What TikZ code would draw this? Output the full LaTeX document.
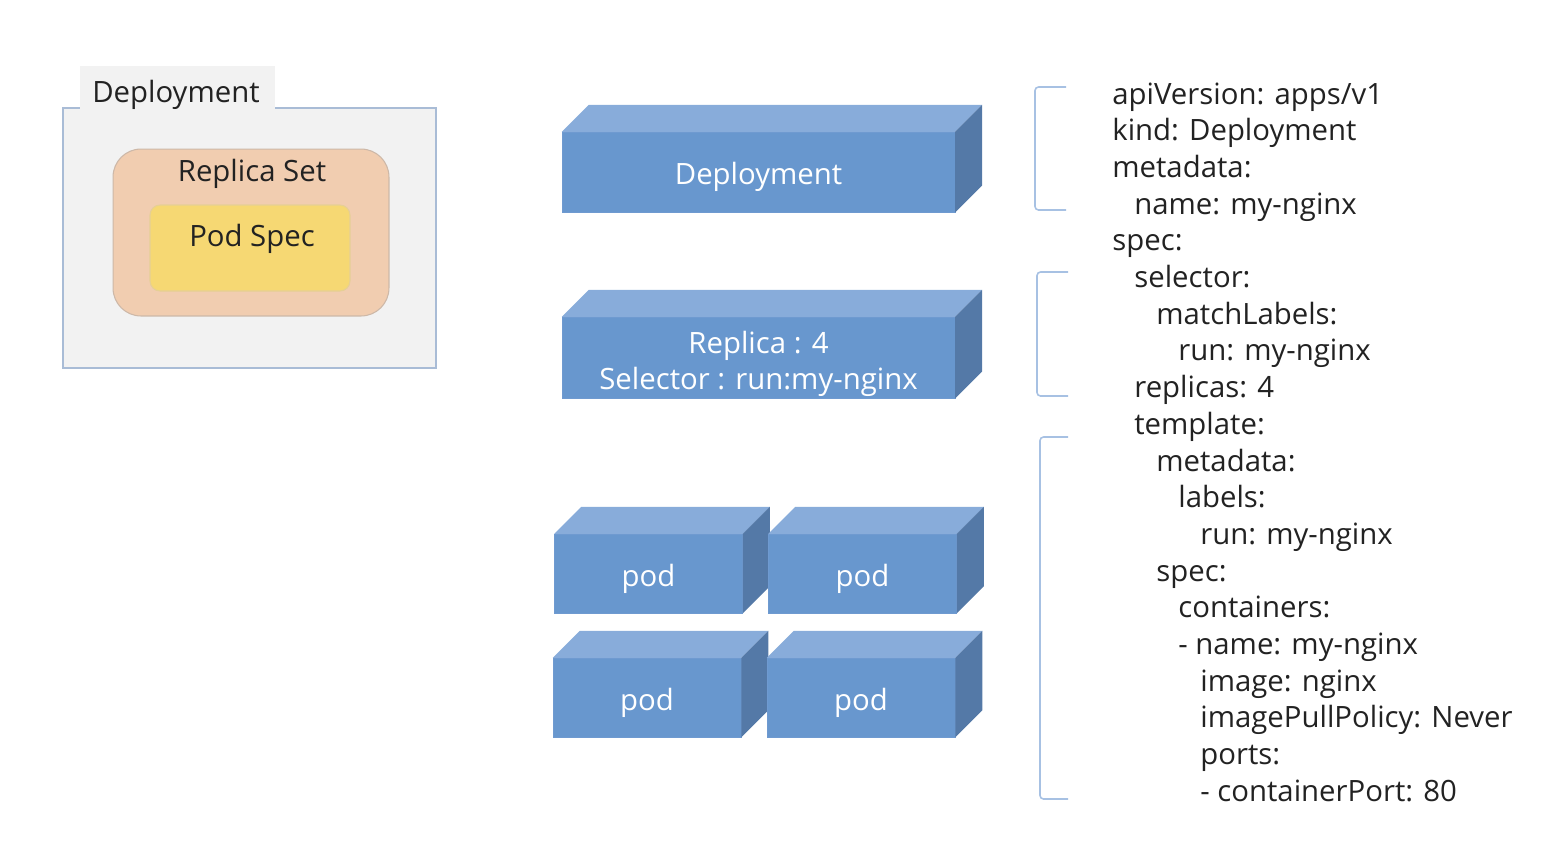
\documentclass[tikz,border=0pt]{standalone}
\usepackage{fontspec}
\setmainfont{Open Sans}
\definecolor{Panelcol}{HTML}{F2F2F2}
\definecolor{Panelline}{HTML}{A9BCD6}
\definecolor{Rscol}{HTML}{F1CDB0}
\definecolor{Rsline}{HTML}{CDB8A8}
\definecolor{Podcol}{HTML}{F6D873}
\definecolor{Podline}{HTML}{E6CF95}
\definecolor{Frontcol}{HTML}{6897CE}
\definecolor{Topcol}{HTML}{88ACDA}
\definecolor{Sidecol}{HTML}{5479A7}
\definecolor{Edgecol}{HTML}{6F9AD0}
\definecolor{Bracketcol}{HTML}{A7C1E3}
\definecolor{Textcol}{HTML}{222222}
\usetikzlibrary{calc, positioning}
\tikzset{
    x=0.02cm, y=-0.02cm,
    txt/.style={font=\fontsize{16.7}{20.5}\selectfont, text=Textcol, inner sep=0pt},
    boxtext/.style={txt, text=white, align=center},
    front/.style={fill=Frontcol, draw=Edgecol, line width=0.3pt, inner sep=0pt},
    slab/.style={front, minimum width=7.86cm, minimum height=1.6cm},
    podbox/.style={front, minimum width=3.76cm, minimum height=1.58cm},
    yamlline/.style={txt, anchor=base west},
    bracket/.style={draw=Bracketcol, line width=0.9pt, rounded corners=2pt}
}

\begin{document}
\begin{tikzpicture}
    \useasboundingbox (0,0) rectangle (1554,850);

    % Left: Deployment panel
    \node[fill=Panelcol, draw=Panelline, line width=0.8pt, minimum width=7.46cm,
        minimum height=5.2cm, inner sep=0pt] (dpanel) at (249.5,238) {};
    \node[fill=Panelcol, minimum width=3.9cm, minimum height=0.87cm,
        inner sep=0pt] (dtab) at (177.5,87.5) {};
    \node[txt] (dlabel) at (176,95) {Deployment};

    % Replica Set and Pod Spec
    \node[fill=Rscol, draw=Rsline, line width=0.6pt, rounded corners=0.56cm,
        minimum width=5.52cm, minimum height=3.34cm, inner sep=0pt] (rsbox) at (251,232.5) {};
    \node[txt] (rslabel) at (252,174) {Replica Set};
    \node[fill=Podcol, draw=Podline, line width=0.6pt, rounded corners=0.2cm,
        minimum width=4cm, minimum height=1.72cm, inner sep=0pt] (psbox) at (250,248) {};
    \node[txt] (pslabel) at (252,239) {Pod Spec};

    % Middle: blocks (front faces)
    \node[slab] (depl) at (758.5,172) {};
    \node[slab, minimum height=1.62cm] (rs) at (758.5,357.5) {};
    \node[podbox] (podA) at (648.5,573.5) {};
    \node[podbox] (podC) at (647,697.5) {};

    % top and side faces
    \foreach \n in {depl,rs,podA,podC} {
        \fill[Topcol] (\n.north west) -- ++(27,-27) -- ($(\n.north east)+(27,-27)$)
            -- (\n.north east) -- cycle;
        \fill[Sidecol] (\n.north east) -- ++(27,-27) -- ($(\n.south east)+(27,-27)$)
            -- (\n.south east) -- cycle;
    }

    \node[podbox] (podB) at (862.5,573.5) {};
    \node[podbox] (podD) at (861,697.5) {};
    \foreach \n in {podB,podD} {
        \fill[Topcol] (\n.north west) -- ++(27,-27) -- ($(\n.north east)+(27,-27)$)
            -- (\n.north east) -- cycle;
        \fill[Sidecol] (\n.north east) -- ++(27,-27) -- ($(\n.south east)+(27,-27)$)
            -- (\n.south east) -- cycle;
    }

    % block labels
    \node[boxtext] (depltext) at ($(depl.center)+(0,5)$) {Deployment};
    \node[boxtext] (rstext) at ($(rs.center)+(0,6.5)$) {Replica : 4\\Selector : run:my-nginx};
    \foreach \n in {podA,podB,podC,podD}
        \node[boxtext] (\n text) at ($(\n.center)+(0,5)$) {pod};

    % Brackets
    \draw[bracket] (1066,87) -- (1035,87) -- (1035,210) -- (1066,210);
    \draw[bracket] (1068,272) -- (1037,272) -- (1037,396) -- (1068,396);
    \draw[bracket] (1068,437) -- (1040,437) -- (1040,799) -- (1068,799);

    % Right: manifest
    \foreach \lvl/\line [count=\i from 0] in {
        0/{apiVersion: apps/v1}, 0/{kind: Deployment}, 0/{metadata:},
        1/{name: my-nginx}, 0/{spec:}, 1/{selector:}, 2/{matchLabels:},
        3/{run: my-nginx}, 1/{replicas: 4}, 1/{template:}, 2/{metadata:},
        3/{labels:}, 4/{run: my-nginx}, 2/{spec:}, 3/{containers:},
        3/{- name: my-nginx}, 4/{image: nginx}, 4/{imagePullPolicy: Never},
        4/{ports:}, 4/{- containerPort: 80}} {
        \node[yamlline] (yaml\i) at (1112+22*\lvl, 104+36.7*\i) {\line};
    }
\end{tikzpicture}
\end{document}
